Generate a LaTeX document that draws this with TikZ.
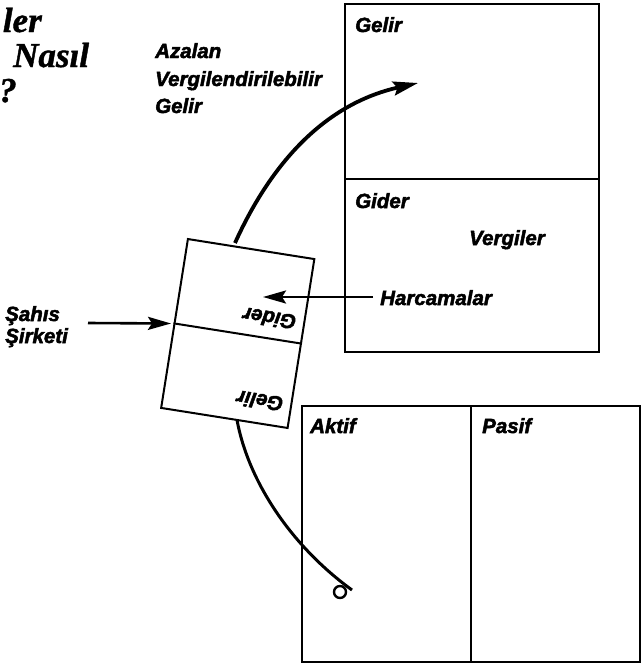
\documentclass[tikz,border=0pt]{standalone}
\usepackage{fontspec}
\newfontfamily\hv{Liberation Sans}[BoldItalicFeatures={FakeBold=2.4}]
\newfontfamily\ser{Liberation Serif}[BoldItalicFeatures={FakeBold=1.2}]
\usetikzlibrary{arrows.meta}
\tikzset{
  lab/.style={font=\hv\bfseries\itshape\fontsize{20.5}{24}\selectfont, inner sep=0pt, anchor=base west},
  ttl/.style={font=\ser\bfseries\itshape\fontsize{35}{38}\selectfont, inner sep=0pt, anchor=base west},
  boxline/.style={line width=2.4pt},
  bigarrow/.style={line width=3.8pt, -{Stealth[length=25pt,width=14pt,inset=4pt]}},
  smallarrow/.style={line width=2.6pt, -{Stealth[length=23pt,width=13pt,inset=4pt]}}
}
\begin{document}
\begin{tikzpicture}[x=1pt,y=1pt]
\useasboundingbox (0,0) rectangle (644,-664);
% title fragments
\node[ttl, anchor=base east] (t1) at (42,-32) {ler};
\node[ttl] (t2) at (13,-67) {Nasıl};
\node[ttl] (t3) at (-1,-102) {?};
% labels top
\node[lab] (az1) at (155,-58) {Azalan};
\node[lab] (az2) at (155,-86) {Vergilendirilebilir};
\node[lab] (az3) at (155,-113) {Gelir};
% income statement box
\draw[boxline] (345,-4) coordinate (isnw) rectangle (599,-352) coordinate (isse);
\draw[boxline] (345,-179) coordinate (isdl) -- (599,-179) coordinate (isdr);
\node[lab] (isgelir) at (355,-32) {Gelir};
\node[lab] (isgider) at (355,-208) {Gider};
\node[lab] (vergiler) at (469,-245) {Vergiler};
\node[lab] (harc) at (380,-305) {Harcamalar};
% balance sheet box
\draw[boxline] (302,-406) rectangle (640,-662);
\draw[boxline] (471,-406) -- (471,-662);
\node[lab] (aktif) at (310,-433) {Aktif};
\node[lab] (pasif) at (482,-433) {Pasif};
% tilted box
\begin{scope}[shift={(237.75,-333.5)}, rotate=171]
  \node[draw, line width=2pt, minimum width=128pt, minimum height=171pt, inner sep=0pt, transform shape] (tb) at (0,0) {};
  \draw[line width=2pt] (tb.west) -- (tb.east);
  \node[lab, transform shape] (tbgelir) at (-56,56) {Gelir};
  \node[lab, transform shape] (tbgider) at (-56,-27) {Gider};
\end{scope}
% Sahis
\node[lab] (sahis1) at (5,-321) {Şahıs};
\node[lab] (sahis2) at (5,-343) {Şirketi};
\coordinate (sahisstart) at (88,-323);
\coordinate (sahisend) at (171,-323.5);
\draw[smallarrow] (sahisstart) -- (sahisend);
% Harcamalar arrow
\coordinate (harcstart) at (373,-297);
\coordinate (harcend) at (263,-297);
\draw[smallarrow] (harcstart) -- (harcend);
% top curve
\coordinate (c1s) at (235,-243);
\coordinate (c1e) at (418,-83);
\draw[bigarrow] (c1s) .. controls (268,-170) and (320,-105) .. (c1e);
% bottom curve
\coordinate (c2s) at (237,-420);
\coordinate (c2e) at (352,-590);
\draw[line width=3pt] (c2s) .. controls (248,-480) and (290,-545) .. (c2e);
\draw[line width=2.4pt] (340,-592) circle (6);
\end{tikzpicture}
\end{document}
